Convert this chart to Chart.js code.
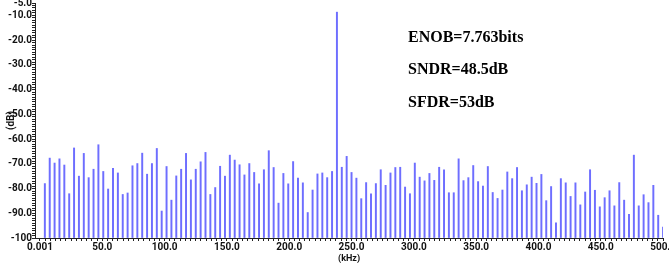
<!DOCTYPE html>
<html>
<head>
<meta charset="utf-8">
<script src="https://cdn.jsdelivr.net/npm/chart.js@4.4.1/dist/chart.umd.min.js"></script>
<style>
  html, body { margin: 0; padding: 0; background: #fff; overflow: hidden; }
  canvas { display: block; }
</style>
</head>
<body>
<canvas id="graficoEspectro" width="676" height="264"></canvas>
<script>
// espectro de saída (FFT de 256 pontos, fs = 1 MHz)
const binKHz = 1000 / 256;
const niveisDB = [
  -78.0, -67.7, -69.7, -68.0, -70.5, -82.1, -63.6, -75.0, -65.8, -75.6,
  -72.2, -62.3, -73.1, -80.2, -71.8, -73.7, -82.4, -81.8, -70.8, -69.9,
  -65.7, -74.2, -69.9, -63.8, -89.1, -71.1, -84.7, -74.9, -72.2, -65.8,
  -76.5, -72.2, -69.2, -65.4, -82.4, -79.6, -71.0, -75.0, -66.5, -68.5,
  -70.4, -74.5, -69.9, -73.5, -78.1, -72.4, -64.7, -71.5, -85.9, -73.9,
  -78.1, -69.1, -75.8, -77.7, -89.7, -80.6, -74.1, -73.7, -75.6, -73.1,
  -8.7, -71.4, -67.0, -73.5, -75.8, -84.1, -77.6, -82.1, -78.0, -72.4,
  -78.7, -73.7, -71.5, -71.4, -79.4, -82.1, -69.7, -75.4, -76.9, -73.9,
  -76.7, -71.4, -72.4, -81.7, -81.7, -68.0, -76.8, -75.6, -70.7, -77.2,
  -79.0, -71.1, -81.6, -84.0, -80.6, -73.3, -76.0, -71.5, -80.9, -78.5,
  -75.4, -77.9, -74.3, -84.9, -79.2, -93.9, -76.0, -77.7, -83.2, -77.7,
  -86.6, -81.4, -72.4, -80.7, -87.4, -83.7, -80.9, -87.0, -77.6, -84.7,
  -90.4, -66.5, -87.0, -82.5, -85.7, -78.7, -90.8, -95.6
];
const ticksY = [-5, -10, -20, -30, -40, -50, -60, -70, -80, -90, -100];
const ticksX = [0, 50, 100, 150, 200, 250, 300, 350, 400, 450, 500];
const textos = ['ENOB=7.763bits', 'SNDR=48.5dB', 'SFDR=53dB'];

const pontos = niveisDB.map((v, i) => ({ x: (i + 1) * binKHz, y: v }));

const corEixo = '#222';
const fonteEixo = { family: 'Roboto', size: 10, weight: 'bold', lineHeight: 0.6 };

const textoPlugin = {
  id: 'textos',
  afterDraw(chart) {
    const c = chart.ctx;
    c.save();
    c.fillStyle = '#000';
    c.font = 'bold 16px "Liberation Serif"';
    c.textBaseline = 'alphabetic';
    c.fillText(textos[0], 408, 42);
    c.fillText(textos[1], 408, 74);
    c.fillText(textos[2], 408, 107);
    c.restore();
  }
};

new Chart(document.getElementById('graficoEspectro'), {
  type: 'bar',
  data: {
    datasets: [{
      data: pontos,
      base: -100,
      backgroundColor: 'rgb(110,110,255)',
      barThickness: 1.3,
      borderWidth: 0
    }]
  },
  options: {
    responsive: false,
    animation: false,
    devicePixelRatio: 1,
    layout: { padding: { top: 3, left: 0, right: 0, bottom: 0 } },
    plugins: { legend: { display: false }, tooltip: { enabled: false } },
    scales: {
      x: {
        type: 'linear',
        min: -4,
        max: 500,
        offset: false,
        afterBuildTicks(scale) {
          const t = [];
          for (let i = 0; i <= 120; i++) t.push({ value: i * 50 / 12 });
          scale.ticks = t;
        },
        afterFit(scale) { scale.height = 26; },
        grid: { drawOnChartArea: false, tickLength: 3, color: corEixo, offset: false },
        border: { color: corEixo },
        ticks: {
          autoSkip: false,
          maxRotation: 0,
          padding: 0,
          color: '#111',
          font: { family: 'Roboto', size: 10, weight: 'bold' },
          callback(v) {
            const m = ticksX.find(t => Math.abs(t - v) < 1e-6);
            if (m === undefined) return '';
            return m === 0 ? '0.001' : m.toFixed(1);
          }
        },
        title: { display: true, text: '(kHz)', color: '#111', padding: 0, font: { family: 'Roboto', size: 9, weight: 'bold' } }
      },
      y: {
        min: -100,
        max: -5,
        afterBuildTicks(scale) {
          const t = [];
          for (let v = -100; v <= -5; v++) t.push({ value: v });
          scale.ticks = t;
        },
        afterFit(scale) { scale.width = 35; },
        grid: { drawOnChartArea: false, tickLength: 3, color: corEixo },
        border: { color: corEixo },
        ticks: {
          autoSkip: false,
          padding: 0,
          color: '#111',
          font: fonteEixo,
          callback(v) {
            if (!ticksY.includes(v)) return '';
            return v === -100 ? '-100' : v.toFixed(1);
          }
        },
        title: { display: true, text: '(dB)', color: '#111', padding: { top: 5, bottom: 0 }, font: { family: 'Roboto', size: 10, weight: 'bold' } }
      }
    }
  },
  plugins: [textoPlugin]
});
</script>
</body>
</html>
